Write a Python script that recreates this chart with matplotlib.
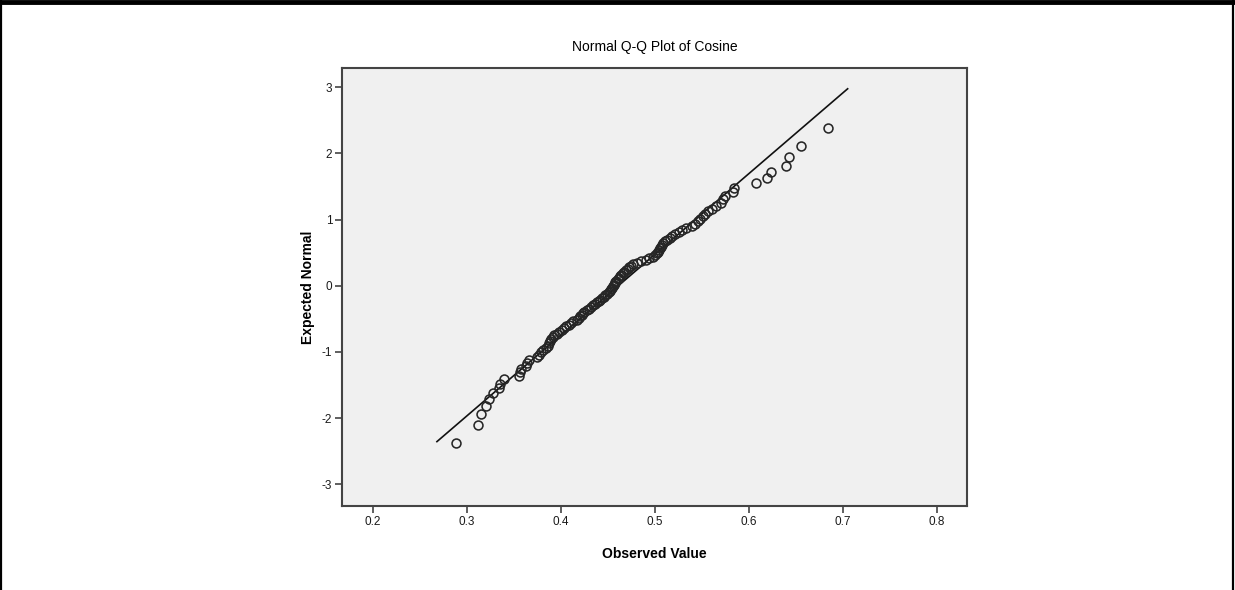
"""Normal Q-Q plot of Cosine, SPSS look"""
import matplotlib
matplotlib.use("Agg")
from matplotlib import pyplot as plt
from matplotlib.lines import Line2D

observed = [
    0.288, 0.312, 0.315, 0.320, 0.323, 0.328, 0.334, 0.335, 0.339, 0.355,
    0.356, 0.357, 0.363, 0.364, 0.366, 0.375, 0.377, 0.379, 0.381, 0.384,
    0.386, 0.387, 0.388, 0.389, 0.391, 0.393, 0.396, 0.398, 0.401, 0.403,
    0.405, 0.408, 0.411, 0.413, 0.417, 0.419, 0.420, 0.422, 0.423, 0.425,
    0.428, 0.430, 0.432, 0.434, 0.436, 0.438, 0.440, 0.442, 0.444, 0.446,
    0.447, 0.449, 0.451, 0.452, 0.453, 0.454, 0.455, 0.456, 0.457, 0.458,
    0.459, 0.461, 0.462, 0.463, 0.464, 0.466, 0.467, 0.469, 0.471, 0.472,
    0.474, 0.477, 0.481, 0.485, 0.490, 0.494, 0.498, 0.500, 0.502, 0.503,
    0.504, 0.505, 0.506, 0.508, 0.509, 0.511, 0.513, 0.516, 0.518, 0.521,
    0.526, 0.529, 0.533, 0.539, 0.543, 0.546, 0.548, 0.551, 0.553, 0.556,
    0.561, 0.565, 0.570, 0.572, 0.574, 0.583, 0.584, 0.607, 0.619, 0.623,
    0.639, 0.643, 0.655, 0.684,
]
expected = [
    -2.379, -2.111, -1.941, -1.815, -1.711, -1.624, -1.547, -1.479, -1.417, -1.360,
    -1.307, -1.257, -1.210, -1.166, -1.124, -1.084, -1.046, -1.009, -0.973, -0.939,
    -0.905, -0.873, -0.842, -0.811, -0.781, -0.752, -0.723, -0.695, -0.668, -0.641,
    -0.614, -0.588, -0.562, -0.537, -0.512, -0.487, -0.463, -0.439, -0.415, -0.391,
    -0.368, -0.345, -0.322, -0.299, -0.276, -0.253, -0.231, -0.209, -0.186, -0.164,
    -0.142, -0.120, -0.098, -0.076, -0.055, -0.033, -0.011, 0.011, 0.033, 0.055,
    0.076, 0.098, 0.120, 0.142, 0.164, 0.186, 0.209, 0.231, 0.253, 0.276,
    0.299, 0.322, 0.345, 0.368, 0.391, 0.415, 0.439, 0.463, 0.487, 0.512,
    0.537, 0.562, 0.588, 0.614, 0.641, 0.668, 0.695, 0.723, 0.752, 0.781,
    0.811, 0.842, 0.873, 0.905, 0.939, 0.973, 1.009, 1.046, 1.084, 1.124,
    1.166, 1.210, 1.257, 1.307, 1.360, 1.417, 1.479, 1.547, 1.624, 1.711,
    1.815, 1.941, 2.111, 2.379,
]
# fitted normal reference line end points
ref_x = [0.268, 0.705]
ref_y = [-2.357, 2.976]

x_ticks = [0.2, 0.3, 0.4, 0.5, 0.6, 0.7, 0.8]
y_ticks = [-3, -2, -1, 0, 1, 2, 3]

plt.rcParams['font.family'] = ['Liberation Sans', 'DejaVu Sans']
plt.rcParams['axes.unicode_minus'] = False

fig = plt.figure(figsize=(12.35, 5.9), dpi=100)
ax = fig.add_axes([342/1235, 1-506/590, (967-342)/1235, (506-68)/590])
ax.set_facecolor('#f0f0f0')

ax.plot(ref_x, ref_y, color='#111111', linewidth=1.2, zorder=2)
ax.plot(observed, expected, linestyle='none', marker='o', markersize=6.4,
        markerfacecolor='none', markeredgecolor='#262626', markeredgewidth=1.15, zorder=3)

ax.set_xlim(0.167, 0.832)
ax.set_ylim(-3.33, 3.29)
ax.set_xticks(x_ticks)
ax.set_xticklabels([f"{t:.1f}" for t in x_ticks])
ax.set_yticks(y_ticks)
ax.tick_params(direction='out', length=5, width=1.2, color='#444444',
               labelsize=8.5, labelcolor='#1a1a1a', pad=2)
for sp in ax.spines.values():
    sp.set_color('#444444')
    sp.set_linewidth(1.5)

ax.set_title("Normal Q-Q Plot of Cosine", fontsize=10, color='black', pad=12)
ax.set_xlabel("Observed Value", fontsize=10, fontweight='bold', labelpad=14)
ax.set_ylabel("Expected Normal", fontsize=10, fontweight='bold', labelpad=5)

# page frame
fig.add_artist(Line2D([0, 1], [1-2/590, 1-2/590], color='black', linewidth=3.5))
fig.add_artist(Line2D([1/1235, 1/1235], [0, 1], color='black', linewidth=1.6))
fig.add_artist(Line2D([1-2/1235, 1-2/1235], [0, 1], color='black', linewidth=1.6))

fig.savefig("out.png", dpi=100)
